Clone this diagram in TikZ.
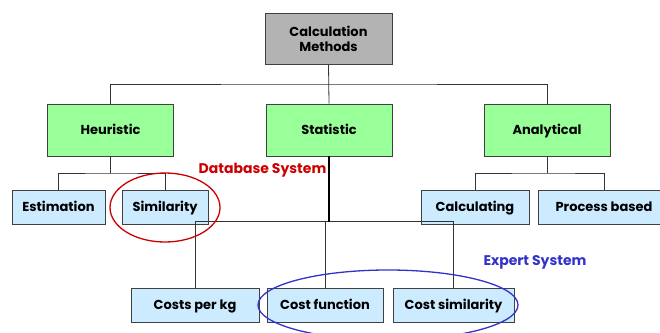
\documentclass[tikz,border=0pt]{standalone}
\usepackage{fontspec}
\setmainfont{Poppins}
\usetikzlibrary{calc}
\definecolor{boxgray}{HTML}{B3B3B3}
\definecolor{boxgreen}{HTML}{99FF99}
\definecolor{boxblue}{HTML}{CCEBFF}
\definecolor{edgegray}{HTML}{404040}
\definecolor{dbred}{HTML}{CC0000}
\definecolor{exblue}{HTML}{3333CC}
\tikzset{
  basebox/.style={draw=edgegray, line width=0.9pt, inner sep=0pt, align=center,
    font=\fontsize{13}{15}\selectfont\bfseries},
  topbox/.style={basebox, fill=boxgray, minimum width=127pt, minimum height=51pt},
  midbox/.style={basebox, fill=boxgreen, minimum width=126pt, minimum height=52pt,
    text height=11pt, text depth=1.5pt},
  leafbox/.style={basebox, fill=boxblue, minimum height=34pt,
    text height=11pt, text depth=1.5pt},
  conn/.style={draw=black!80, line width=0.8pt},
  thickconn/.style={draw=black, line width=1.8pt},
  lbl/.style={font=\fontsize{14}{16}\selectfont\bfseries, inner sep=0pt}
}
\begin{document}
\begin{tikzpicture}[x=1pt,y=1pt]
\useasboundingbox (0,0) rectangle (660,-332);
\clip (0,0) rectangle (660,-332);
\fill[white] (0,0) rectangle (660,-332);
% nodes
\node[topbox] (top) at (328.5,-38.5) {Calculation\\Methods};
\node[midbox] (heur) at (110.5,-130) {Heuristic};
\node[midbox] (stat) at (329,-130) {Statistic};
\node[midbox] (anal) at (547,-130) {Analytical};
\node[leafbox, minimum width=93pt] (est) at (58.5,-207) {Estimation};
\node[leafbox, minimum width=86pt] (sim) at (165,-207) {Similarity};
\node[leafbox, minimum width=108pt] (calc) at (475,-207) {Calculating};
\node[leafbox, minimum width=132pt] (proc) at (604,-207) {Process based};
\node[leafbox, minimum width=128pt] (cpk) at (195,-305) {Costs per kg};
\node[leafbox, minimum width=116pt] (cfun) at (325,-305) {Cost function};
\node[leafbox, minimum width=121pt] (csim) at (453.5,-305) {Cost similarity};
% bus coordinates
\coordinate (bus1) at (329,-84);
\coordinate (hbus) at (110.5,-173);
\coordinate (abus) at (547,-173);
\coordinate (sbus) at (329,-221.5);
% connectors
\draw[conn] (top.south) -- (stat.north);
\draw[conn] (heur.north) |- (bus1) -| (anal.north);
\draw[conn] (heur.south) -- (hbus);
\draw[conn] (est.north) |- (hbus) -| (sim.north);
\draw[conn] (anal.south) -- (abus);
\draw[conn] (calc.north) |- (abus) -| (proc.north);
\draw[conn] (cpk.north) |- (sbus) -| (csim.north);
\draw[conn] (cfun.north) -- (cfun.north |- sbus);
\draw[thickconn] (stat.south) -- (sbus);
% ellipses
\draw[dbred, line width=1.3pt] (165,-207.5) ellipse [x radius=55, y radius=34.5];
\draw[exblue, line width=1.3pt] (388,-305) ellipse [x radius=130, y radius=35];
% labels
\node[lbl, text=dbred] (dblbl) at (262.5,-170) {Database System};
\node[lbl, text=exblue] (exlbl) at (535,-262) {Expert System};
\end{tikzpicture}
\end{document}
